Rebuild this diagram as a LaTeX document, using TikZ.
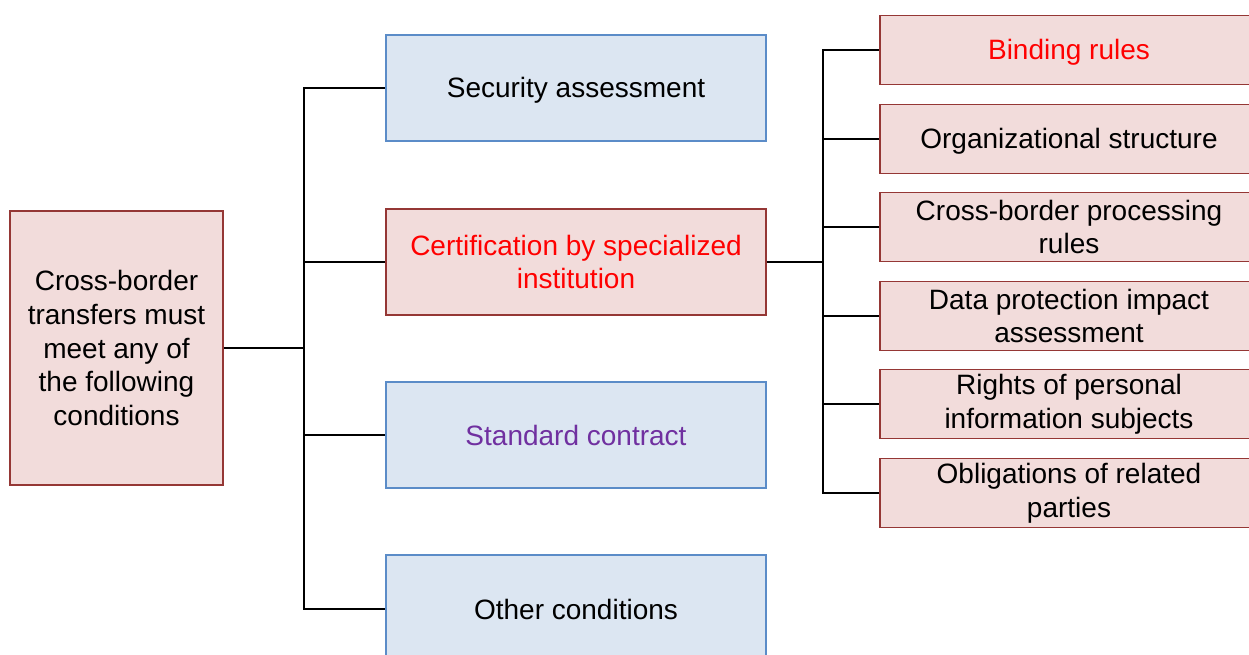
\documentclass[tikz,border=0pt]{standalone}
\usepackage{fontspec}
\setmainfont{Liberation Sans}

\definecolor{pinkfill}{HTML}{F2DCDB}
\definecolor{pinkedge}{HTML}{953735}
\definecolor{bluefill}{HTML}{DCE6F2}
\definecolor{blueedge}{HTML}{5B8CC8}
\definecolor{purpletext}{HTML}{7030A0}

\tikzset{
  redbox/.style={draw=pinkedge, fill=pinkfill, line width=1.6pt, align=center, inner sep=0pt},
  bluebox/.style={draw=blueedge, fill=bluefill, line width=1.6pt, align=center, inner sep=0pt},
  oneline/.style={text height=24pt, text depth=4pt},
  midbox/.style={minimum width=380pt, minimum height=106pt},
  subbox/.style={redbox, minimum width=378pt, minimum height=69pt},
  link/.style={draw=black, line width=1.6pt}
}

\begin{document}
\begin{tikzpicture}[x=1pt, y=-1pt, font=\fontsize{28}{33.6}\selectfont]

\useasboundingbox (0,0) rectangle (1249,655);
\clip (0,0) rectangle (1249,655);

% root and the four ways
\node[redbox, minimum width=213pt, minimum height=274pt] (root) at (116.5,348)
  {Cross-border\\transfers must\\meet any of\\the following\\conditions};

\node[bluebox, midbox, oneline] (sec) at (576,88) {Security assessment};
\node[redbox, midbox, text=red] (cert) at (576,262) {Certification by specialized\\institution};
\node[bluebox, midbox, oneline, text=purpletext] (std) at (576,435) {Standard contract};
\node[bluebox, midbox, oneline, minimum height=108pt] (other) at (576,609) {Other conditions};

% what the certification covers
\node[subbox, oneline, text=red] (bind) at (1069,50) {Binding rules};
\node[subbox, oneline] (org) at (1069,139) {Organizational structure};
\node[subbox] (proc) at (1069,227) {Cross-border processing\\rules};
\node[subbox] (dpia) at (1069,316) {Data protection impact\\assessment};
\node[subbox] (rights) at (1069,404) {Rights of personal\\information subjects};
\node[subbox] (oblig) at (1069,493) {Obligations of related\\parties};

\coordinate (busA) at (304,348);
\coordinate (busB) at (823,262);

\draw[link, line width=2.4pt] (root.east) -- (busA);
\foreach \n in {sec,cert,std,other}
  \draw[link] (busA) |- (\n.west);

\draw[link, line width=2.4pt] (cert.east) -- (busB);
\foreach \n in {bind,org,proc,dpia,rights,oblig}
  \draw[link] (busB) |- (\n.west);

\end{tikzpicture}
\end{document}
